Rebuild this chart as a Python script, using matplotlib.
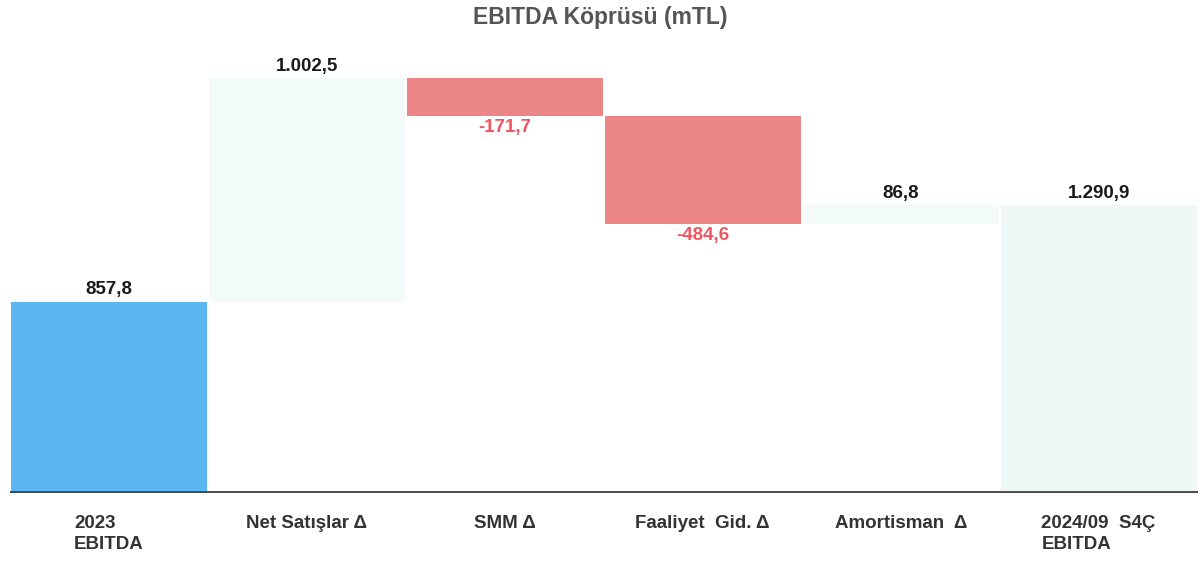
import numpy as np
from matplotlib import pyplot as plt

categories = ["2023\nEBITDA", "Net Satışlar Δ", "SMM Δ", "Faaliyet  Gid. Δ", "Amortisman  Δ", "2024/09  S4Ç\nEBITDA"]
start_value = 857.8
deltas = [1002.5, -171.7, -484.6, 86.8]
end_value = 1290.9
value_labels = ["857,8", "1.002,5", "-171,7", "-484,6", "86,8", "1.290,9"]

plt.rcParams['font.family'] = ['Liberation Sans', 'DejaVu Sans']

# waterfall bottoms / heights
bottoms = [0]
heights = [start_value]
level = start_value
for d in deltas:
    if d >= 0:
        bottoms.append(level)
        heights.append(d)
    else:
        bottoms.append(level + d)
        heights.append(-d)
    level += d
bottoms.append(0)
heights.append(end_value)

colors = ["#5CB6F2"]
for d in deltas:
    colors.append("#F2FAFA" if d >= 0 else "#EC8686")
colors.append("#EEF8F7")

fig = plt.figure(figsize=(12, 5.62), dpi=100)
ax = fig.add_axes([0.0083, 0.1228, 0.9897, 0.788])

x = np.arange(len(categories))
ax.bar(x, heights, bottom=bottoms, width=0.99, color=colors, edgecolor="none")

for i in range(len(categories)):
    if i in (0, len(categories) - 1) or deltas[i - 1] >= 0:
        ax.text(x[i], bottoms[i] + heights[i] + 14, value_labels[i], ha="center", va="bottom",
                fontsize=13.5, fontweight="bold", color="#1a1a1a")
    else:
        ax.text(x[i], bottoms[i] - 12, value_labels[i], ha="center", va="top",
                fontsize=13.5, fontweight="bold", color="#F0555F")

ax.set_xlim(-0.5, len(categories) - 0.5)
ax.set_ylim(0, 1985)
ax.axhline(0, color="#4a4a4a", lw=2.8, zorder=3)
for s in ax.spines.values():
    s.set_visible(False)
ax.set_yticks([])
ax.set_xticks(x)
ax.set_xticklabels(categories, fontsize=13.5, fontweight="bold", color="#333333",
                   multialignment="left", linespacing=1.3)
ax.tick_params(axis="x", length=0, pad=16)

fig.suptitle("EBITDA Köprüsü (mTL)", y=0.99, fontsize=16.5, fontweight="bold", color="#555555")

fig.savefig("out.png", dpi=100)
